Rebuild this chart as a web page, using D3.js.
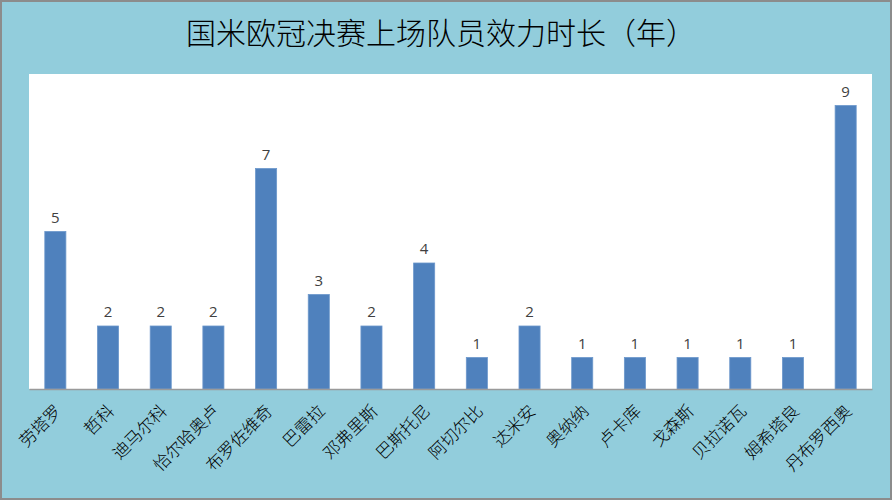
<!DOCTYPE html>
<html lang="zh">
<meta charset="utf-8"/>
<head>
<script src="https://d3js.org/d3.v7.min.js"></script>
<style>
	html, body { margin: 0; padding: 0; background: #FFFFFF; }
	svg { display: block; font-family: "Noto Sans CJK SC", sans-serif; }
</style>
</head>
<body>
<svg id="chart" width="892" height="500"></svg>
<script>
// 球员名字和效力年数
let players = ["劳塔罗", "哲科", "迪马尔科", "恰尔哈奥卢", "布罗佐维奇", "巴雷拉", "邓弗里斯", "巴斯托尼",
	"阿切尔比", "达米安", "奥纳纳", "卢卡库", "戈森斯", "贝拉诺瓦", "姆希塔良", "丹布罗西奥"]
let years = [5, 2, 2, 2, 7, 3, 2, 4, 1, 2, 1, 1, 1, 1, 1, 9]
let yDomain = [0, 10]
let title = "国米欧冠决赛上场队员效力时长（年）"

let width = 892
let height = 500
let plot = {left: 29, right: 872, top: 74, bottom: 389}
let svg = d3.select("#chart")

// 背景和外框
svg.append("rect")
	.attr("x", 1).attr("y", 1)
	.attr("width", width - 2).attr("height", height - 2)
	.attr("fill", "#92CDDC")
	.attr("stroke", "#8C8C8C")
	.attr("stroke-width", 2)

svg.append("rect")
	.attr("x", plot.left).attr("y", plot.top)
	.attr("width", plot.right - plot.left).attr("height", plot.bottom - plot.top)
	.attr("fill", "#FFFFFF")

svg.append("text")
	.attr("x", 441).attr("y", 44)
	.attr("text-anchor", "middle")
	.attr("font-size", 30)
	.attr("font-weight", 300)
	.attr("fill", "#000000")
	.text(title)

let data = players.map((p, i) => ({name: p, value: years[i]}))

let xScale = d3.scaleBand()
	.domain(players)
	.range([plot.left, plot.right])
	.paddingInner(0.6)
	.paddingOuter(0.3)

let yScale = d3.scaleLinear()
	.domain(yDomain)
	.range([plot.bottom, plot.top])

svg.selectAll(".bar")
	.data(data)
	.enter()
	.append("rect")
	.attr("class", "bar")
	.attr("x", d => xScale(d.name))
	.attr("y", d => yScale(d.value))
	.attr("width", xScale.bandwidth())
	.attr("height", d => yScale(0) - yScale(d.value))
	.attr("fill", "#4F81BD")
	.attr("stroke", "#6C97CB")
	.attr("stroke-width", 0.8)

svg.selectAll(".val")
	.data(data)
	.enter()
	.append("text")
	.attr("class", "val")
	.attr("x", d => xScale(d.name) + xScale.bandwidth() / 2)
	.attr("y", d => yScale(d.value) - 9)
	.attr("text-anchor", "middle")
	.attr("font-size", 15)
	.attr("font-family", "'Open Sans', sans-serif")
	.attr("fill", "#404040")
	.text(d => d.value)

// x 轴
let xAxis = svg.append("g")
	.attr("transform", "translate(0," + plot.bottom + ")")
	.call(d3.axisBottom(xScale).tickSize(0).tickPadding(0))

xAxis.select(".domain")
	.attr("stroke", "#9A9A9A")
	.attr("stroke-width", 1.5)

xAxis.selectAll("text")
	.attr("font-size", 17)
	.attr("font-weight", 300)
	.attr("font-family", "'Noto Sans CJK SC', sans-serif")
	.attr("fill", "#000000")
	.attr("text-anchor", "end")
	.attr("dy", "0.35em")
	.attr("transform", "translate(3,19) rotate(-45)")
</script>
</body>
</html>
